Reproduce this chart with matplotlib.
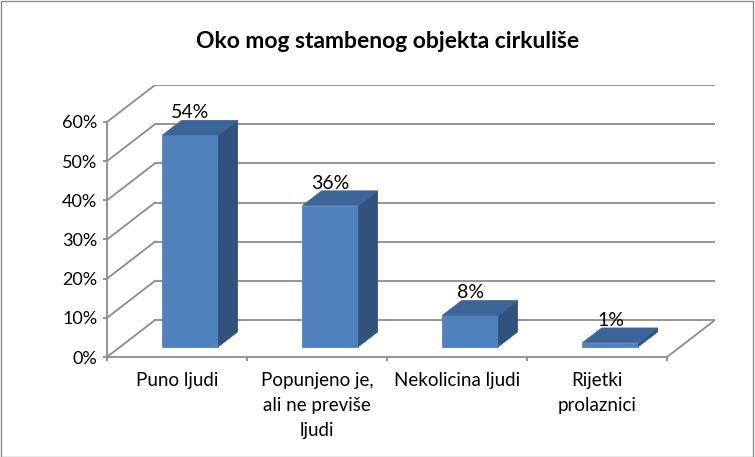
import matplotlib.pyplot as plt
from matplotlib.patches import Polygon, Rectangle

# Podaci
categories = ["Puno ljudi", "Popunjeno je,\nali ne previše\nljudi", "Nekolicina ljudi", "Rijetki\nprolaznici"]
values = [0.54, 0.36, 0.08, 0.01]
value_labels = ["54%", "36%", "8%", "1%"]
y_ticks = [0.0, 0.1, 0.2, 0.3, 0.4, 0.5, 0.6]
y_tick_labels = ["0%", "10%", "20%", "30%", "40%", "50%", "60%"]
title = "Oko mog stambenog objekta cirkuliše"

plt.rcParams['font.family'] = ['Lato', 'DejaVu Sans']

# Prospettiva (offset per la profondita)
dx = 48 / 140
dy = 0.0944
z0, z1 = 0.28, 0.68
bar_w = 0.4
grid_col = '#8c8c8c'


def proj(x, y, z):
    return (x + z * dx, y + z * dy)


fig = plt.figure(figsize=(7.55, 4.57), dpi=100)
fig.patches.append(Rectangle((0.001, 0.001), 0.997, 0.997, transform=fig.transFigure,
                             fill=False, edgecolor='#8c8c8c', linewidth=1.0))
ax = fig.add_axes([107 / 755, 100 / 457, 608 / 755, 272 / 457])
n = len(categories)
ax.set_xlim(0, n + dx)
ax.set_ylim(0, y_ticks[-1] + dy)

# pareti e griglia
for yv in y_ticks:
    ax.plot(*zip(proj(0, yv, 0), proj(0, yv, 1)), color=grid_col, lw=1.3, zorder=1)
    ax.plot(*zip(proj(0, yv, 1), proj(n, yv, 1)), color=grid_col, lw=1.3, zorder=1)
ax.plot(*zip(proj(n, 0, 0), proj(n, 0, 1)), color=grid_col, lw=1.3, zorder=1)

# barre
for i, v in enumerate(values):
    x0 = i + 0.5 - bar_w / 2
    x1 = i + 0.5 + bar_w / 2
    front = [proj(x0, 0, z0), proj(x1, 0, z0), proj(x1, v, z0), proj(x0, v, z0)]
    side = [proj(x1, 0, z0), proj(x1, 0, z1), proj(x1, v, z1), proj(x1, v, z0)]
    top = [proj(x0, v, z0), proj(x1, v, z0), proj(x1, v, z1), proj(x0, v, z1)]
    ax.add_patch(Polygon(front, closed=True, facecolor='#4f81bd', edgecolor='#4a7ab3', lw=0.5, zorder=3))
    ax.add_patch(Polygon(side, closed=True, facecolor='#31527c', edgecolor='#31527c', lw=0.5, zorder=3))
    ax.add_patch(Polygon(top, closed=True, facecolor='#3b6599', edgecolor='#3b6599', lw=0.5, zorder=3))
    lx = proj(i + 0.5, v, z0)[0]
    ly = proj(i + 0.5, v, z1)[1]
    ax.text(lx, ly - 0.002, value_labels[i], ha='center', va='bottom', fontsize=14, zorder=4)

# assi
for s in ['top', 'right']:
    ax.spines[s].set_visible(False)
ax.spines['left'].set_bounds(0, y_ticks[-1])
ax.spines['bottom'].set_bounds(0, n)
ax.spines['left'].set_color(grid_col)
ax.spines['bottom'].set_color(grid_col)
ax.spines['left'].set_linewidth(1.3)
ax.spines['bottom'].set_linewidth(1.3)
ax.set_yticks(y_ticks)
ax.set_yticklabels(y_tick_labels, fontsize=13)
ax.set_xticks(range(n + 1))
ax.set_xticklabels([])
ax.set_xticks([i + 0.5 for i in range(n)], minor=True)
ax.set_xticklabels(categories, minor=True, fontsize=13.5, linespacing=1.55)
ax.tick_params(axis='both', which='major', color=grid_col, length=3, width=1.3)
ax.tick_params(axis='y', pad=4)
ax.tick_params(axis='x', which='minor', length=0, pad=11)
ax.patch.set_visible(False)

fig.text(388 / 755, 1 - 42 / 457, title, ha='center', va='center', fontsize=16.5, fontweight='bold')

fig.savefig('out.png', dpi=100)
